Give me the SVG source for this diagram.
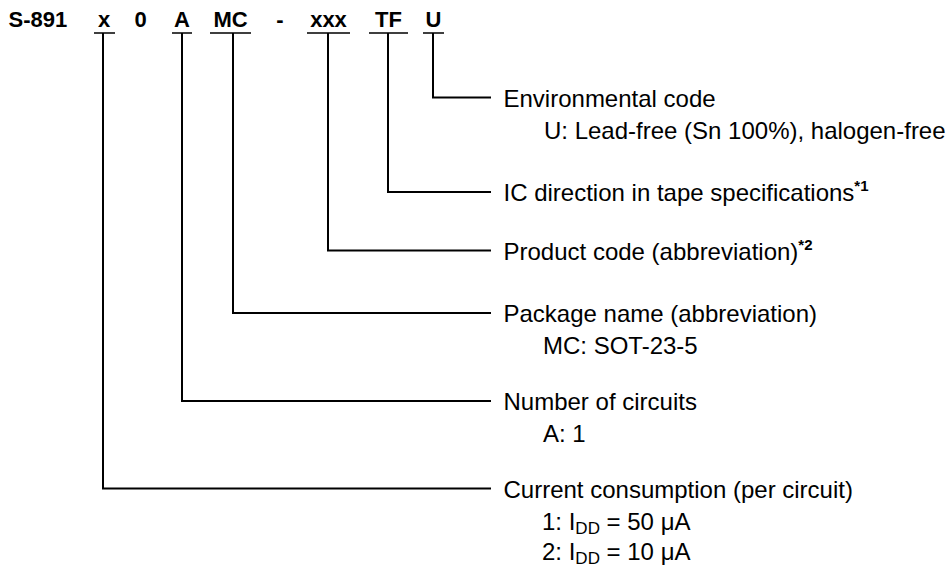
<svg xmlns="http://www.w3.org/2000/svg" width="949" height="569" viewBox="0 0 949 569">
<style>
text{font-family:"Liberation Sans",Arial,sans-serif;fill:#000}
.h{font-weight:bold;font-size:22px;text-anchor:middle}
.t{font-size:24px}
.sup{font-weight:bold;font-size:15px}
.sub{font-size:17px}
.ln{stroke:#000;stroke-width:2;fill:none}
.ul{stroke:#000;stroke-width:1.6;fill:none}
</style>
<rect width="949" height="569" fill="#fff"/>
<g id="header">
<text class="h" x="8.5" y="27" style="text-anchor:start">S-891</text>
<text class="h" x="104" y="27">x</text>
<text class="h" x="140.5" y="27">0</text>
<text class="h" x="182" y="27">A</text>
<text class="h" x="230.5" y="27">MC</text>
<text class="h" x="280" y="27">-</text>
<text class="h" x="328.5" y="27">xxx</text>
<text class="h" x="388.5" y="27">TF</text>
<text class="h" x="433.5" y="27">U</text>
<path class="ul" d="M94 33H115M172 33H192M210 33H251M307 33H350M369 33H408M423 33H444"/>
</g>
<g id="connectors">
<path class="ln" d="M433 33V97.5H491"/>
<path class="ln" d="M388 33V192H491"/>
<path class="ln" d="M328 33V250.5H491"/>
<path class="ln" d="M233 33V313H491"/>
<path class="ln" d="M182 33V401H491"/>
<path class="ln" d="M103 33V488.5H491"/>
</g>
<g id="env">
<text class="t" x="503.5" y="106.5">Environmental code</text>
<text class="t" x="544" y="138.5">U: Lead-free (Sn 100%), halogen-free</text>
</g>
<g id="tf">
<text class="t" x="503.5" y="201">IC direction in tape specifications<tspan class="sup" dy="-10">*1</tspan></text>
</g>
<g id="xxx">
<text class="t" x="503.5" y="259.5">Product code (abbreviation)<tspan class="sup" dy="-10">*2</tspan></text>
</g>
<g id="mc">
<text class="t" x="503.5" y="322">Package name (abbreviation)</text>
<text class="t" x="543" y="354">MC: SOT-23-5</text>
</g>
<g id="a">
<text class="t" x="503.5" y="410">Number of circuits</text>
<text class="t" x="543" y="442">A: 1</text>
</g>
<g id="x">
<text class="t" x="503.5" y="497.5">Current consumption (per circuit)</text>
<text class="t" x="542" y="529.5">1: I<tspan class="sub" dy="4">DD</tspan><tspan dy="-4"> = 50 μA</tspan></text>
<text class="t" x="542" y="559.5">2: I<tspan class="sub" dy="4">DD</tspan><tspan dy="-4"> = 10 μA</tspan></text>
</g>
</svg>
